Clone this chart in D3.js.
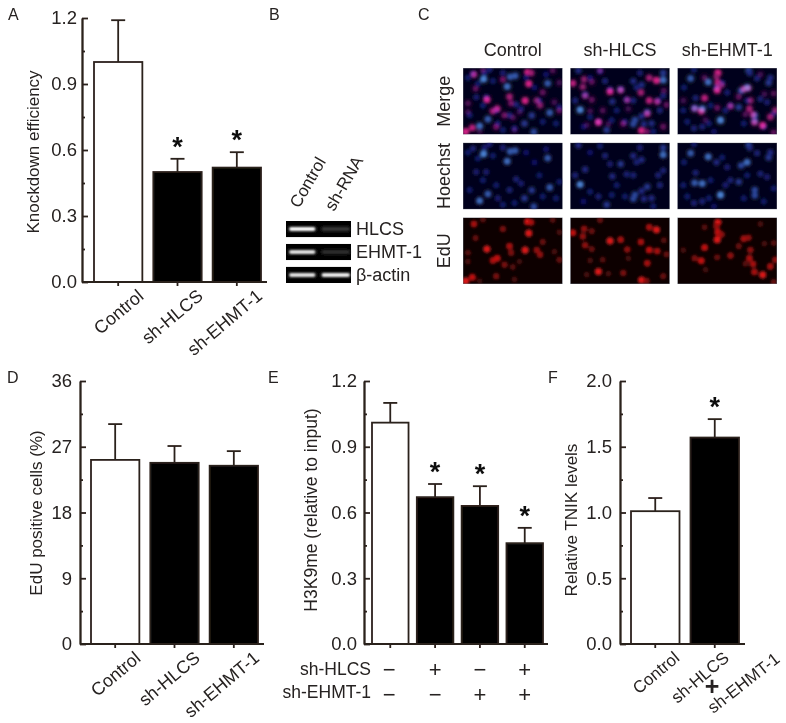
<!DOCTYPE html>
<html><head><meta charset="utf-8">
<script src="https://cdn.jsdelivr.net/npm/d3@7"></script>
<style>
html,body{margin:0;padding:0;background:#fff}
svg{display:block}
text{font-family:"Liberation Sans",Arial,sans-serif;fill:#262220}
</style></head><body>
<div id="chart"></div>
<script>
// ---- Data ----
const catsThree = ["Control","sh-HLCS","sh-EHMT-1"];
const catsFour = ["a","b","c","d"];
const catsTwo = ["Control","sh-HLCS"];

const knockdownValues = [1.0,0.5,0.52];
const knockdownErrTops = [1.19,0.56,0.59];
const knockdownStars = [false,true,true];
const knockdownTicks = [0,0.3,0.6,0.9,1.2];

const eduValues = [25.2,24.8,24.4];
const eduErrTops = [30.1,27.1,26.4];
const eduStars = [false,false,false];
const eduTicks = [0,9,18,27,36];

const h3k9Values = [1.01,0.67,0.63,0.46];
const h3k9ErrTops = [1.10,0.73,0.72,0.53];
const h3k9Stars = [false,true,true,true];
const h3k9Ticks = [0,0.3,0.6,0.9,1.2];
const h3k9RowHLCS = ["\u2212","+","\u2212","+"];
const h3k9RowEHMT = ["\u2212","\u2212","+","+"];

const tnikValues = [1.01,1.57];
const tnikErrTops = [1.11,1.71];
const tnikStars = [false,true];
const tnikTicks = [0,0.5,1.0,1.5,2.0];

const gelRows = ["HLCS","EHMT-1","\u03b2-actin"];
const gelBands = [[1,0.16],[0.9,0.12],[0.9,0.95]];
const gelLanes = ["Control","sh-RNA"];

const imageCols = ["Control","sh-HLCS","sh-EHMT-1"];
const imageRows = ["Merge","Hoechst","EdU"];

// nuclei as [x, y, brightness], x in 0-300, y in 0-204 of each micrograph
const blueControl = [[62,34,1],[133,57,.9],[142,27,.8],[157,24,.8],[255,47,.8],[50,178,.9],[75,157,.8],[261,137,.8],[213,196,.7],[185,170,.6],[207,146,.6],[30,18,.4],[80,5,.35],[120,15,.35],[65,15,.35],[45,48,.3],[160,112,.4],[175,125,.35],[140,145,.4],[40,90,.35],[70,90,.35],[60,115,.3],[100,130,.3],[105,170,.35],[230,100,.3],[290,120,.3],[215,60,.25],[280,170,.3],[240,165,.3],[90,40,.3],[15,30,.3],[190,30,.25],[120,190,.3],[20,145,.3],[155,185,.3],[250,20,.25]];
const blueHLCS = [[25,8,.5],[280,37,.9],[280,15,.6],[190,40,.5],[215,52,.5],[200,60,.4],[152,65,.6],[105,40,.4],[120,65,.35],[45,82,.5],[15,100,.4],[30,128,1],[127,103,.5],[170,97,.4],[190,100,.4],[265,100,.4],[280,85,.4],[232,135,.6],[215,148,.5],[195,160,.7],[190,172,.7],[222,172,.5],[245,170,.5],[270,130,.4],[110,190,.6],[85,165,.4],[60,150,.3],[140,130,.3],[165,165,.3],[40,180,.25],[90,10,.3],[210,15,.35],[60,30,.25],[125,160,.3],[250,195,.3]];
const blueEHMT = [[40,32,.8],[93,43,.9],[215,8,.7],[218,15,.5],[210,60,.9],[192,70,.7],[275,45,.6],[280,30,.5],[240,32,.4],[118,60,.5],[50,5,.3],[135,45,.3],[52,123,.8],[75,125,.9],[100,115,.3],[130,160,1],[233,145,.7],[233,162,.7],[185,120,.6],[160,115,.4],[55,92,.4],[18,130,.3],[250,95,.4],[270,105,.35],[210,100,.3],[75,180,.4],[50,185,.4],[95,170,.3],[150,75,.35],[145,130,.35],[290,140,.3],[260,180,.3],[200,170,.3],[20,60,.3],[30,165,.3],[110,195,.2]];
const redControl = [[33,20,.8],[60,7,.4],[195,13,1],[205,15,.8],[120,35,.6],[198,48,1],[38,63,.5],[270,8,.4],[290,45,.3],[72,97,1],[140,88,.8],[145,108,.6],[187,100,1],[222,100,.7],[232,114,.7],[240,75,.5],[90,132,.8],[103,125,.9],[125,145,.6],[150,152,.4],[15,108,.4],[15,135,.3],[100,180,.6],[28,183,.9],[8,195,1],[155,190,.3],[290,130,.5],[275,105,.3],[170,135,.25],[50,195,.2]];
const redHLCS = [[90,8,.5],[42,35,.7],[65,42,.5],[38,58,.7],[8,47,.9],[45,85,.7],[65,97,.5],[120,72,1],[152,68,.8],[238,30,.8],[260,38,1],[213,75,.8],[282,70,.4],[172,98,.7],[238,100,.9],[262,103,.8],[290,113,.5],[232,140,.8],[60,132,.3],[98,130,.4],[85,166,1],[160,170,.6],[50,175,.3],[115,172,.3],[215,192,1],[230,195,.6],[280,180,.5],[175,125,.25]];
const redEHMT = [[122,15,1],[118,27,.7],[82,30,.4],[122,45,.9],[133,52,.7],[120,68,1],[200,65,.8],[214,62,.7],[185,88,.5],[82,92,.9],[220,100,.7],[262,80,.3],[290,78,.4],[18,100,.3],[52,125,.6],[72,133,.9],[120,122,.5],[160,117,.7],[217,125,.8],[228,143,.8],[205,142,.4],[232,167,.8],[257,176,1],[280,150,.8],[295,130,.7],[85,160,.25],[250,20,.3],[290,198,.5]];

// ---- Drawing ----
const W=786,H=723, ink="#2c201b", barBlack="#060606";
const svg=d3.select("#chart").append("svg").attr("width",W).attr("height",H);
const defs=svg.append("defs");
const soft=defs.append("filter").attr("id","soft");
soft.append("feGaussianBlur").attr("stdDeviation",0.35);
const cellBlur=defs.append("filter").attr("id","cell").attr("x","-60%").attr("y","-60%").attr("width","220%").attr("height","220%");
cellBlur.append("feGaussianBlur").attr("stdDeviation",1.4);
const bandBlur=defs.append("filter").attr("id","band").attr("x","-20%").attr("y","-80%").attr("width","140%").attr("height","260%");
bandBlur.append("feGaussianBlur").attr("stdDeviation",0.8);
const root=svg.append("g").attr("filter","url(#soft)");
root.append("rect").attr("width",W).attr("height",H).attr("fill","#fff");

function barPanel(o){
  const g=root.append("g");
  const x=d3.scaleBand().domain(o.cats).range(o.xRange).paddingInner(0.185);
  const y=d3.scaleLinear().domain([0,o.ticks[o.ticks.length-1]]).range(o.yRange);
  g.selectAll("line.err").data(o.values).join("line")
    .attr("x1",(d,i)=>x(o.cats[i])+x.bandwidth()/2).attr("x2",(d,i)=>x(o.cats[i])+x.bandwidth()/2)
    .attr("y1",d=>y(d)).attr("y2",(d,i)=>y(o.errs[i]))
    .attr("stroke",ink).attr("stroke-width",1.8);
  g.selectAll("line.cap").data(o.errs).join("line").attr("class","cap")
    .attr("x1",(d,i)=>x(o.cats[i])+x.bandwidth()/2-7).attr("x2",(d,i)=>x(o.cats[i])+x.bandwidth()/2+7)
    .attr("y1",d=>y(d)).attr("y2",d=>y(d))
    .attr("stroke",ink).attr("stroke-width",1.8);
  g.selectAll("rect.bar").data(o.values).join("rect").attr("class","bar")
    .attr("x",(d,i)=>x(o.cats[i])).attr("width",x.bandwidth())
    .attr("y",d=>y(d)).attr("height",d=>y(0)-y(d))
    .attr("fill",(d,i)=>o.fills[i]).attr("stroke",ink).attr("stroke-width",1.8);
  g.selectAll("text.star").data(o.errs.map((e,i)=>({e,i})).filter(d=>o.stars[d.i])).join("text").attr("class","star")
    .attr("x",d=>x(o.cats[d.i])+x.bandwidth()/2).attr("y",d=>y(d.e)-3)
    .attr("text-anchor","middle").attr("font-size",27).attr("font-weight","bold").style("fill","#111").text("*");
  const minor=d3.pairs(o.ticks).map(p=>(p[0]+p[1])/2);
  const ya=g.append("g").attr("transform",`translate(${o.axisX},0)`)
    .call(d3.axisLeft(y).tickValues(o.ticks).tickSizeInner(-6).tickSizeOuter(0).tickPadding(o.tickPad).tickFormat(o.fmt));
  ya.selectAll("text").attr("font-size",18.5).attr("font-family",null);
  const ym=g.append("g").attr("transform",`translate(${o.axisX},0)`)
    .call(d3.axisLeft(y).tickValues(minor).tickSizeInner(-3).tickSizeOuter(0).tickFormat(""));
  [ya,ym].forEach(a=>{a.selectAll("line,path").attr("stroke",ink).attr("stroke-width",1.8);});
  const xa=g.append("g").attr("transform",`translate(0,${o.yRange[0]})`)
    .call(d3.axisBottom(x).tickSizeInner(4).tickSizeOuter(0).tickFormat(o.hideCats?"":null));
  xa.select("path").attr("d",`M${o.axisX},0H${o.axisEnd}`);
  xa.selectAll("line,path").attr("stroke",ink).attr("stroke-width",1.8);
  xa.selectAll("text").attr("font-size",o.catSize||18)
    .attr("text-anchor","end").attr("font-family",null)
    .attr("transform",(d,i)=>`translate(${20+(o.labelDx?o.labelDx[i]:0)},8) rotate(-40)`).attr("dy","0.35em").attr("y",4).attr("x",0);
  root.append("text").attr("transform",`translate(${o.titleX},${o.titleY}) rotate(-90)`)
    .attr("text-anchor","middle").attr("font-size",o.titleSize||17).text(o.title);
  return {x,y,g};
}
const blackFills3=["#fff",barBlack,barBlack];
const yTop=381,yBase=644;
barPanel({cats:catsThree,values:knockdownValues,errs:knockdownErrTops,stars:knockdownStars,ticks:knockdownTicks,fills:blackFills3,
  xRange:[94,261],yRange:[282,18],axisX:82,axisEnd:267,tickPad:5,fmt:d3.format(".1f"),title:"Knockdown efficiency",titleX:39,titleY:152});
barPanel({cats:catsThree,values:eduValues,errs:eduErrTops,stars:eduStars,ticks:eduTicks,fills:blackFills3,
  xRange:[91,258],yRange:[yBase,yTop],axisX:80,axisEnd:264,tickPad:8,fmt:d3.format("d"),title:"EdU positive cells (%)",titleX:42,titleY:513});
const e=barPanel({cats:catsFour,values:h3k9Values,errs:h3k9ErrTops,stars:h3k9Stars,ticks:h3k9Ticks,fills:["#fff",barBlack,barBlack,barBlack],hideCats:true,
  xRange:[372,543],yRange:[yBase,yTop],axisX:364,axisEnd:548,tickPad:7,fmt:d3.format(".1f"),title:"H3K9me (relative to input)",titleX:317,titleY:510,titleSize:17.5});
const f=barPanel({cats:catsTwo,values:tnikValues,errs:tnikErrTops,stars:tnikStars,ticks:tnikTicks,fills:["#fff",barBlack],labelDx:[-1,-11],catSize:17,
  xRange:[631,739],yRange:[yBase,yTop],axisX:620,axisEnd:745,tickPad:8,fmt:d3.format(".1f"),title:"Relative TNIK levels",titleX:577,titleY:520});

[[h3k9RowHLCS,677,"sh-HLCS",675],[h3k9RowEHMT,702,"sh-EHMT-1",698]].forEach(([row,yy,lab,base])=>{
  root.selectAll(null).data(row).join("text")
    .attr("x",(d,i)=>e.x(catsFour[i])+e.x.bandwidth()/2-(i==0?1:0)).attr("y",yy)
    .attr("text-anchor","middle").attr("font-size",22).text(d=>d);
  root.append("text").attr("x",371).attr("y",base).attr("text-anchor","end").attr("font-size",17.5).text(lab);
});
root.append("text").attr("x",712).attr("y",695).attr("text-anchor","middle").attr("font-size",25).attr("font-weight","bold").text("+");
root.append("text").attr("text-anchor","end").attr("font-size",17)
  .attr("transform",`translate(781,661) rotate(-38)`).text("sh-EHMT-1");

[["A",8,20],["B",269,20],["C",418,20],["D",7,383],["E",268,383],["F",548,383]].forEach(([t,xx,yy])=>{
  root.append("text").attr("x",xx).attr("y",yy).attr("font-size",16).text(t);
});

const gelY=d3.scaleBand().domain(gelRows).range([221,283]).paddingInner(0.3);
const gelX=d3.scaleBand().domain(gelLanes).range([286,351]);
gelRows.forEach((r,ri)=>{
  root.append("rect").attr("x",286).attr("width",65).attr("y",gelY(r)).attr("height",gelY.bandwidth()).attr("fill","#050505");
  root.append("text").attr("x",356).attr("y",gelY(r)+gelY.bandwidth()-2).attr("font-size",18).text(r);
  gelLanes.forEach((l,li)=>{
    const v=gelBands[ri][li];
    root.append("rect").attr("x",gelX(l)+3).attr("width",gelX.bandwidth()-6+(li?2:0))
      .attr("y",gelY(r)+gelY.bandwidth()/2-2).attr("height",4)
      .attr("rx",2).attr("fill",d3.interpolateRgb("#111","#fff")(v)).attr("filter","url(#band)");
  });
});
gelLanes.forEach((l,i)=>{
  root.append("text").attr("text-anchor","start").attr("font-size",17)
    .attr("transform",`translate(${i?334:299},${i?212:209}) rotate(-60)`).text(l);
});

const blues=[blueControl,blueHLCS,blueEHMT], reds=[redControl,redHLCS,redEHMT];
const colX=d3.scaleBand().domain(imageCols).range([463,777]).paddingInner(0.07);
const rowY=d3.scaleBand().domain(imageRows).range([68,284]).paddingInner(0.11);
const blueCol=d3.interpolateRgb("#0a0a62","#4a80d0");
const redCol=d3.interpolateRgb("#340707","#f21414");
const pinkCol=d3.interpolateRgb("#2c0734","#ee1e80");
imageRows.forEach((rn,r)=>imageCols.forEach((cn,c)=>{
  const id=`clip${r}${c}`;
  defs.append("clipPath").attr("id",id).append("rect").attr("x",colX(cn)).attr("y",rowY(rn)).attr("width",colX.bandwidth()).attr("height",rowY.bandwidth());
  const px=d3.scaleLinear().domain([0,300]).range([colX(cn),colX(cn)+colX.bandwidth()]);
  const py=d3.scaleLinear().domain([0,204]).range([rowY(rn),rowY(rn)+rowY.bandwidth()]);
  const g=root.append("g").attr("clip-path",`url(#${id})`).style("isolation","isolate");
  g.append("rect").attr("x",colX(cn)).attr("y",rowY(rn)).attr("width",colX.bandwidth()).attr("height",rowY.bandwidth())
    .attr("fill",r==2?"#080404":r==1?"#03031c":"#05051c");
  if(r<2) g.append("g").attr("filter","url(#cell)").selectAll("circle").data(blues[c]).join("circle")
    .attr("cx",d=>px(d[0])).attr("cy",d=>py(d[1])).attr("r",d=>2.7+d[2]*0.9).attr("fill",d=>blueCol(d[2]*d[2]));
  if(r!=1) g.append("g").attr("filter","url(#cell)").style("mix-blend-mode","screen").selectAll("circle").data(reds[c]).join("circle")
    .attr("cx",d=>px(d[0])).attr("cy",d=>py(d[1])).attr("r",d=>2.6+d[2]*1.0).attr("fill",d=>(r==0?pinkCol:redCol)(Math.pow(d[2],1.7)*(r==0?0.85:0.9)));
  g.append("rect").attr("x",colX(cn)).attr("y",rowY(rn)).attr("width",colX.bandwidth()).attr("height",rowY.bandwidth())
    .attr("fill","none").attr("stroke","#8f93a0").attr("stroke-width",0.6);
}));
imageCols.forEach(cn=>{
  root.append("text").attr("x",colX(cn)+colX.bandwidth()/2).attr("y",56).attr("text-anchor","middle").attr("font-size",18).text(cn);
});
imageRows.forEach(rn=>{
  root.append("text").attr("transform",`translate(450,${rowY(rn)+rowY.bandwidth()/2}) rotate(-90)`).attr("text-anchor","middle").attr("font-size",18).text(rn);
});
</script>
</body></html>
